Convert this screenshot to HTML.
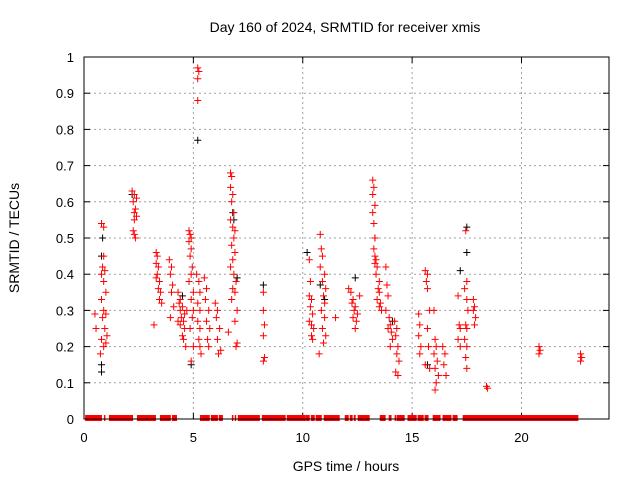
<!DOCTYPE html>
<html><head><meta charset="utf-8"><style>
body{margin:0;background:#fff}
svg{font-family:"Liberation Sans",sans-serif}
</style></head><body>
<svg id="chart" width="640" height="480" xmlns="http://www.w3.org/2000/svg">
<rect width="640" height="480" fill="#fff"/>
<text x="345" y="32" text-anchor="middle" font-size="14">Day 160 of 2024, SRMTID for receiver xmis</text>
<text x="346" y="471" text-anchor="middle" font-size="14">GPS time / hours</text>
<text transform="translate(19,238) rotate(-90)" text-anchor="middle" font-size="14">SRMTID / TECUs</text>
<g id="grid"></g><g id="ticks"></g><g id="marks"></g>
<rect x="84" y="57" width="525" height="362" fill="none" stroke="#000" stroke-width="1"/>
</svg>
<script>
const xTicks=[0,5,10,15,20];
const yTicks=[0,0.1,0.2,0.3,0.4,0.5,0.6,0.7,0.8,0.9,1];
const yTickLabels=["0","0.1","0.2","0.3","0.4","0.5","0.6","0.7","0.8","0.9","1"];
const redPoints=[
[0.5,.29],[0.55,.25],
[0.8,.54],[0.9,.53],[0.85,.42],[0.95,.41],[0.8,.40],[0.9,.38],[1.0,.35],[0.8,.33],[0.9,.30],[1.0,.29],[0.85,.28],[0.95,.25],[1.05,.23],[0.8,.22],[0.9,.20],[0.75,.18],[1.0,.21],[0.9,.45],
[2.2,.63],[2.3,.62],[2.25,.60],[2.35,.58],[2.3,.57],[2.4,.56],[2.3,.55],[2.25,.52],[2.3,.51],[2.35,.50],[2.4,.61],
[3.2,.26],[3.3,.46],[3.35,.45],[3.3,.43],[3.4,.42],[3.35,.40],[3.45,.38],[3.4,.36],[3.5,.35],[3.45,.33],[3.55,.32],[3.3,.39],
[3.9,.44],[4.0,.42],[3.95,.40],[4.05,.37],[4.0,.35],[4.1,.31],[3.95,.28],
[4.3,.35],[4.4,.33],[4.35,.32],[4.5,.31],[4.4,.30],[4.6,.29],[4.45,.28],[4.55,.27],[4.4,.26],[4.6,.25],[4.5,.23],[4.55,.22],[4.65,.20],[4.7,.30],[4.3,.27],
[4.8,.52],[4.85,.51],[4.9,.50],[4.8,.49],[4.9,.47],[4.85,.45],[4.95,.42],[4.9,.40],[4.8,.38],[5.0,.35],[4.9,.33],[5.0,.30],[4.95,.28],[4.85,.25],[5.0,.20],[4.9,.16],
[5.2,.97],[5.25,.96],[5.2,.94],[5.2,.88],[5.15,.40],[5.25,.38],[5.3,.35],[5.2,.32],[5.3,.30],[5.2,.27],[5.3,.25],[5.25,.22],[5.3,.20],[5.35,.18],
[5.5,.39],[5.6,.36],[5.55,.33],[5.7,.30],[5.6,.27],[5.75,.25],[5.65,.22],[5.7,.20],
[6.0,.32],[6.1,.30],[6.05,.28],[6.2,.25],[6.1,.22],[6.25,.19],[6.15,.18],
[6.7,.68],[6.75,.67],[6.7,.64],[6.8,.62],[6.75,.60],[6.85,.57],[6.7,.55],[6.8,.53],[6.9,.52],[6.85,.50],[6.75,.48],[6.9,.46],[6.8,.44],[6.7,.42],[6.85,.40],[6.95,.38],[6.8,.36],[6.9,.35],[6.75,.33],[7.0,.30],[6.9,.27],[6.6,.24],[7.0,.21],[6.95,.20],
[8.2,.35],[8.2,.30],[8.25,.26],[8.2,.23],[8.25,.17],[8.2,.16],
[10.3,.44],[10.35,.38],[10.3,.34],[10.4,.33],[10.35,.31],[10.45,.29],[10.3,.27],[10.4,.26],[10.5,.25],[10.4,.23],[10.45,.22],
[10.8,.51],[10.85,.47],[10.9,.45],[10.8,.42],[11.0,.40],[10.9,.38],[11.05,.36],[10.95,.34],[11.0,.32],[10.85,.30],[11.0,.28],[10.9,.25],[11.05,.23],[10.95,.21],[10.75,.18],
[11.5,.28],
[12.1,.36],[12.2,.35],[12.3,.33],[12.25,.32],[12.4,.31],[12.35,.30],[12.5,.29],[12.3,.28],[12.45,.27],[12.4,.25],[12.6,.34],
[13.2,.66],[13.25,.64],[13.2,.62],[13.3,.59],[13.2,.57],[13.25,.54],[13.3,.50],[13.25,.47],[13.3,.45],[13.35,.44],[13.3,.43],[13.4,.42],[13.35,.40],[13.5,.38],[13.45,.36],[13.5,.35],[13.4,.33],[13.55,.32],[13.5,.31],[13.6,.30],
[13.8,.42],[13.85,.37],[13.9,.34],[13.8,.30],[13.95,.28],[14.0,.26],[13.9,.25],[14.05,.24],[14.1,.22],[14.0,.20],
[14.2,.27],[14.3,.25],[14.25,.23],[14.35,.20],[14.3,.18],[14.4,.16],[14.25,.13],[14.35,.12],
[15.3,.29],[15.35,.26],[15.3,.23],[15.4,.20],[15.35,.18],
[15.6,.41],[15.7,.40],[15.65,.38],[15.7,.36],[15.8,.30],[15.7,.25],[15.75,.20],[15.6,.15],[15.8,.14],
[16.0,.30],[16.05,.22],[16.1,.20],[16.0,.18],[16.15,.16],[16.05,.14],[16.2,.12],[16.1,.10],[16.05,.08],
[16.4,.20],[16.5,.18],[16.45,.15],[16.55,.12],
[17.1,.34],[17.15,.26],[17.2,.25],[17.1,.22],[17.2,.20],
[17.45,.52],[17.5,.38],[17.4,.36],[17.5,.33],[17.55,.30],[17.45,.26],[17.5,.25],[17.4,.22],[17.5,.20],[17.45,.17],[17.5,.14],
[17.8,.33],[17.85,.31],[17.8,.30],[17.9,.28],[17.85,.26],
[18.4,.09],[18.45,.085],
[20.8,.20],[20.85,.19],[20.8,.18],
[22.7,.18],[22.75,.17],[22.7,.16]
];
const blackPoints=[[0.85,.50],[0.8,.45],[0.8,.15],[0.8,.13],[2.2,.62],[5.2,.77],[4.9,.15],[6.8,.57],[6.85,.55],[7.0,.39],[8.2,.37],[10.2,.46],[10.8,.37],[12.4,.39],[13.3,.50],[14.1,.27],[15.7,.15],[17.2,.41],[17.5,.53],[17.5,.46],[4.5,.34],[11.0,.33]];
const zeroStarts=[0.05,0.91,1.14,2.42,3.47,3.84,4.02,5.30,5.39,5.80,6.16,6.76,6.89,7.03,8.13,9.27,10.14,10.37,10.59,10.96,11.92,12.15,12.33,12.51,13.52,13.93,14.20,14.29,14.79,15.25,15.57,15.94,16.39,16.85,17.31];
const zeroEnds=[0.82,0.91,2.24,3.29,3.84,3.97,4.25,5.39,5.75,6.12,6.35,6.80,6.94,8.04,9.22,10.14,10.32,10.55,10.87,11.69,12.10,12.28,12.42,13.06,13.79,14.06,14.25,14.66,15.21,15.53,15.75,16.30,16.80,17.08,22.60];

const X0=84,X1=609,Y0=419,Y1=57;
const xs=v=>X0+v/24*(X1-X0);
const ys=v=>Y0-v*(Y0-Y1);
const NS="http://www.w3.org/2000/svg";
function mk(tag,attrs,parent){const e=document.createElementNS(NS,tag);for(const k in attrs)e.setAttribute(k,attrs[k]);parent.appendChild(e);return e;}
const grid=document.getElementById('grid'),ticks=document.getElementById('ticks'),marks=document.getElementById('marks');
yTicks.forEach((t,i)=>{
  const y=ys(t);
  if(i>0&&i<yTicks.length-1){const g=mk('line',{x1:X0,x2:X1,y1:y,y2:y,stroke:'#a0a0a0','stroke-dasharray':'2,3'},grid);
  
  }
  mk('line',{x1:X0,x2:X0+6,y1:y,y2:y,stroke:'#000'},ticks);
  mk('line',{x1:X1,x2:X1-6,y1:y,y2:y,stroke:'#000'},ticks);
  const l=mk('text',{x:X0-10,y:y+5,'text-anchor':'end','font-size':13},ticks);
  l.textContent=yTickLabels[i];
  
  
});
xTicks.forEach(t=>{
  const x=xs(t);
  if(t>0){const g=mk('line',{x1:x,x2:x,y1:Y0,y2:Y1,stroke:'#a0a0a0','stroke-dasharray':'2,3'},grid);
  
  }
  mk('line',{x1:x,x2:x,y1:Y0,y2:Y0-6,stroke:'#000'},ticks);
  mk('line',{x1:x,x2:x,y1:Y1,y2:Y1+6,stroke:'#000'},ticks);
  const l=mk('text',{x:x,y:Y0+23,'text-anchor':'middle','font-size':13},ticks);
  l.textContent=String(t);
  
  
});
function plus(x,y,col){
  const p=mk('path',{d:`M${x-3.5},${y}H${x+3.5}M${x},${y-3.5}V${y+3.5}`,stroke:col,'stroke-width':1,fill:'none'},marks);
  return p;
}
zeroStarts.forEach((s,i)=>{
  const a=xs(s),b=Math.max(xs(zeroEnds[i]),a+1.5);
  const r=mk('rect',{x:a,y:Y0-4,width:b-a,height:6,fill:'#ff0000'},marks);
  
  
});
blackPoints.forEach(p=>{
  const m=plus(xs(p[0]),ys(p[1]),'#000');
  
  
});
redPoints.forEach(p=>{
  const m=plus(xs(p[0]),ys(p[1]),'#ff0000');
  
  
});
</script>
</body></html>
